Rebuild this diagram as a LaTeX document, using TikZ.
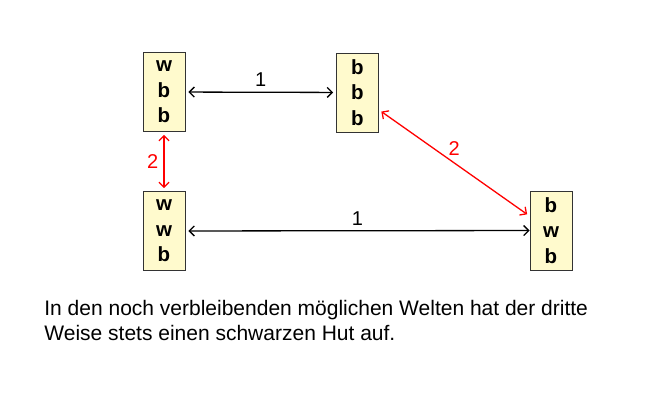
\documentclass[tikz,border=0pt]{standalone}
\usepackage{fontspec}
\setmainfont{Liberation Sans}
\usetikzlibrary{positioning}
\usetikzlibrary{arrows.meta}

\begin{document}
\begin{tikzpicture}
[x=1pt,y=-1pt,thick,%
  >={Straight Barb[length=5pt,width=10pt]},%
  worldDecorate/.style={shape=rectangle,draw=black!80,line width=0.8pt,fill=worldfill,
    minimum width=42pt,minimum height=79pt,inner sep=0pt,align=center,
    font=\fontsize{20.5}{25.5}\selectfont\bfseries},%
  lineDecorate/.style={<->,line width=1.3pt,black},%
  redDecorate/.style={<->,line width=1.3pt,red},%
  labelDecorate/.style={font=\fontsize{20}{22}\selectfont,inner sep=2pt}]
\definecolor{worldfill}{RGB}{255,250,205}
\useasboundingbox (0,0) rectangle (672,401);
%% worlds
\foreach \nodename/\x/\y/\hats in {
  wbb/164/92/w\\b\\b, bbb/357.5/92.5/b\\b\\b,
  wwb/164/231/w\\w\\b, bwb/551/230.5/b\\w\\b}
{
  \node[worldDecorate] (\nodename) at (\x,\y) {\hats};
}
%% agent 1
\draw[lineDecorate,shorten <=3pt,shorten >=3pt] (wbb) -- node[labelDecorate,above=3pt] {1} (bbb);
\draw[lineDecorate,shorten <=3pt] (wwb) -- node[labelDecorate,above=3pt] {1} (bwb);
%% agent 2
\draw[redDecorate,shorten <=3pt,shorten >=3pt] (wbb) -- node[labelDecorate,red,left=3pt] {2} (wwb);
\draw[redDecorate,shorten <=3pt,shorten >=3pt] (bbb.-39) -- node[labelDecorate,red,above=5pt] {2} (bwb.146);
%% caption
\node[anchor=base west,align=left,inner sep=0pt,font=\fontsize{21}{25}\selectfont] (caption) at (44,340)
  {In den noch verbleibenden möglichen Welten hat der dritte\\Weise stets einen schwarzen Hut auf.};
\end{tikzpicture}
\end{document}
